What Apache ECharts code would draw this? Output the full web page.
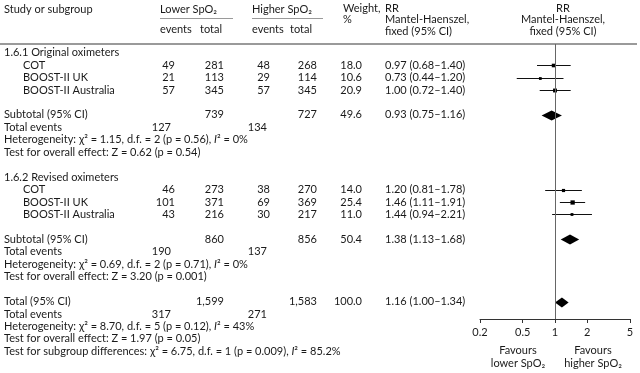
<!DOCTYPE html>
<html><head><meta charset="utf-8">
<script src="https://cdn.jsdelivr.net/npm/echarts@6/dist/echarts.min.js"></script>
<style>html,body{margin:0;padding:0;background:#fff}#c{width:640px;height:373px}</style>
</head><body><div id="c"></div>
<script>
// ---- data ----
const groupNames = ["1.6.1 Original oximeters", "1.6.2 Revised oximeters"];
const studyNames = ["COT", "BOOST-II UK", "BOOST-II Australia"];
const lowerEvents = [[49, 21, 57], [46, 101, 43]];
const lowerTotal = [[281, 113, 345], [273, 371, 216]];
const higherEvents = [[48, 29, 57], [38, 69, 30]];
const higherTotal = [[268, 114, 345], [270, 369, 217]];
const studyWeight = [[18.0, 10.6, 20.9], [14.0, 25.4, 11.0]];
const studyRR = [[0.97, 0.73, 1.00], [1.20, 1.46, 1.44]];
const studyLo = [[0.68, 0.44, 0.72], [0.81, 1.11, 0.94]];
const studyHi = [[1.40, 1.20, 1.40], [1.78, 1.91, 2.21]];
// subtotals (group 1, group 2) and overall total (index 2)
const sumLowerTotal = [739, 860, 1599];
const sumHigherTotal = [727, 856, 1583];
const sumLowerEvents = [127, 190, 317];
const sumHigherEvents = [134, 137, 271];
const sumWeight = [49.6, 50.4, 100.0];
const sumRR = [0.93, 1.38, 1.16];
const sumLo = [0.75, 1.13, 1.00];
const sumHi = [1.16, 1.68, 1.34];
const hetChi2 = ["1.15", "0.69", "8.70"];
const hetDf = [2, 2, 5];
const hetP = ["0.56", "0.71", "0.12"];
const hetI2 = ["0%", "0%", "43%"];
const zValue = ["0.62", "3.20", "1.97"];
const zP = ["0.54", "0.001", "0.05"];
const subgroupDiff = { chi2: "6.75", df: 1, p: "0.009", i2: "85.2%" };
const tickValues = [0.2, 0.5, 1, 2, 5];

// ---- layout ----
const FONT = 'Lato';
const FS = 11;
const COLOR = '#1a1a1a';
const gridTop = 44, gridBottom = 54, H = 373;
const yMin = -0.7, yMax = 21.4;
const gridH = H - gridTop - gridBottom;
function rowY(i) { return gridTop + (i - yMin) / (yMax - yMin) * gridH; }

const X = {
  left: 4, indent: 23,
  lowEv: 175, lowEvTot: 171, lowTot: 224,
  highEv: 270, highEvTot: 267, highTot: 317,
  weight: 362, rr: 385
};

const texts = [];
function txt(x, y, text, align, rich) {
  const st = {
    text: text, x: x, y: y, fontSize: FS, fontFamily: FONT, fill: COLOR,
    align: align || 'left', verticalAlign: 'middle'
  };
  if (rich) st.rich = { i: { fontStyle: 'italic', fontSize: FS, fontFamily: FONT, fill: COLOR } };
  texts.push({ type: 'text', silent: true, style: st });
}
const fmtN = n => n.toLocaleString('en-US');
const fmtRR = (r, l, h) => `${r.toFixed(2)} (${l.toFixed(2)}–${h.toFixed(2)})`;

// header
txt(X.left, 9, 'Study or subgroup');
txt(160, 9, 'Lower SpO₂');
txt(252, 9, 'Higher SpO₂');
txt(160, 29, 'events'); txt(200, 29, 'total');
txt(252, 29, 'events'); txt(290, 29, 'total');
txt(343, 8, 'Weight,'); txt(343, 19.5, '%');
txt(385, 8, 'RR'); txt(385, 19.5, 'Mantel-Haenszel,'); txt(385, 31, 'fixed (95% CI)');
txt(563, 8, 'RR', 'center'); txt(563, 19.5, 'Mantel-Haenszel,', 'center'); txt(563, 31, 'fixed (95% CI)', 'center');

// plot data for custom series: [rr, lo, hi, row, weight, kind]
const plotData = [];
function summaryBlock(k, base, label) {
  const y = rowY(base);
  txt(X.left, y, label);
  txt(X.lowTot, y, fmtN(sumLowerTotal[k]), 'right');
  txt(X.highTot, y, fmtN(sumHigherTotal[k]), 'right');
  txt(X.weight, y, sumWeight[k].toFixed(1), 'right');
  txt(X.rr, y, fmtRR(sumRR[k], sumLo[k], sumHi[k]));
  txt(X.left, rowY(base + 1), 'Total events');
  txt(X.lowEvTot, rowY(base + 1), String(sumLowerEvents[k]), 'right');
  txt(X.highEvTot, rowY(base + 1), String(sumHigherEvents[k]), 'right');
  txt(X.left, rowY(base + 2), `Heterogeneity: χ² = ${hetChi2[k]}, d.f. = ${hetDf[k]} (p = ${hetP[k]}), {i|I}² = ${hetI2[k]}`, 'left', true);
  txt(X.left, rowY(base + 3), `Test for overall effect: Z = ${zValue[k]} (p = ${zP[k]})`);
  plotData.push([sumRR[k], sumLo[k], sumHi[k], base, sumWeight[k], 1]);
}
for (let g = 0; g < 2; g++) {
  const base = g * 10;
  txt(X.left, rowY(base), groupNames[g]);
  for (let s = 0; s < 3; s++) {
    const r = base + 1 + s, y = rowY(r);
    txt(X.indent, y, studyNames[s]);
    txt(X.lowEv, y, String(lowerEvents[g][s]), 'right');
    txt(X.lowTot, y, String(lowerTotal[g][s]), 'right');
    txt(X.highEv, y, String(higherEvents[g][s]), 'right');
    txt(X.highTot, y, String(higherTotal[g][s]), 'right');
    txt(X.weight, y, studyWeight[g][s].toFixed(1), 'right');
    txt(X.rr, y, fmtRR(studyRR[g][s], studyLo[g][s], studyHi[g][s]));
    plotData.push([studyRR[g][s], studyLo[g][s], studyHi[g][s], r, studyWeight[g][s], 0]);
  }
  summaryBlock(g, base + 5, 'Subtotal (95% CI)');
}
summaryBlock(2, 20, 'Total (95% CI)');
txt(X.left, rowY(24), `Test for subgroup differences: χ² = ${subgroupDiff.chi2}, d.f. = ${subgroupDiff.df} (p = ${subgroupDiff.p}), {i|I}² = ${subgroupDiff.i2}`, 'left', true);

// favours labels
txt(518, 350, 'Favours', 'center'); txt(518, 363, 'lower SpO₂', 'center');
txt(593, 350, 'Favours', 'center'); txt(593, 363, 'higher SpO₂', 'center');

// rules
texts.push({ type: 'rect', silent: true, shape: { x: 0, y: 43, width: 637, height: 2 }, style: { fill: '#9a9a9a' } });
texts.push({ type: 'rect', silent: true, shape: { x: 160, y: 18, width: 73, height: 1 }, style: { fill: '#9a9a9a' } });
texts.push({ type: 'rect', silent: true, shape: { x: 252, y: 18, width: 71, height: 1 }, style: { fill: '#9a9a9a' } });

const chart = echarts.init(document.getElementById('c'));
chart.setOption({
  animation: false,
  grid: { left: 480, right: 10, top: gridTop, bottom: gridBottom, containLabel: false },
  xAxis: {
    type: 'log', logBase: 10, min: 0.2, max: 5, position: 'bottom',
    axisLine: { show: true, onZero: false, lineStyle: { color: '#333', width: 1 } },
    axisTick: { show: true, length: 4, customValues: tickValues, lineStyle: { color: '#333' } },
    axisLabel: { customValues: tickValues, color: COLOR, fontSize: FS, fontFamily: FONT, margin: 8,
      formatter: v => String(+(+v).toPrecision(3)) },
    splitLine: { show: false }, minorTick: { show: false }
  },
  yAxis: { type: 'value', inverse: true, min: yMin, max: yMax, show: false },
  series: [{
    type: 'custom',
    data: plotData,
    encode: { x: [0, 1, 2], y: 3 },
    renderItem: function (params, api) {
      const rr = api.value(0), lo = api.value(1), hi = api.value(2), row = api.value(3), w = api.value(4), kind = api.value(5);
      const c = api.coord([rr, row]), l = api.coord([lo, row]), h = api.coord([hi, row]);
      const cy = Math.round(c[1]) + 0.5;
      if (kind === 0) {
        const s = Math.max(2.5, 0.85 * Math.sqrt(w));
        return { type: 'group', children: [
          { type: 'line', shape: { x1: l[0], y1: cy, x2: h[0], y2: cy }, style: { stroke: '#111', lineWidth: 1 } },
          { type: 'rect', shape: { x: c[0] - s / 2, y: cy - s / 2, width: s, height: s }, style: { fill: '#000' } }
        ] };
      }
      return { type: 'polygon', shape: { points: [[l[0], cy], [c[0], cy - 5], [h[0], cy], [c[0], cy + 5]] }, style: { fill: '#000' } };
    },
    markLine: {
      silent: true, symbol: 'none', animation: false,
      label: { show: false },
      lineStyle: { color: '#666', width: 1, type: 'solid' },
      data: [{ xAxis: 1 }]
    }
  }],
  graphic: { elements: texts }
});
</script>
</body></html>
